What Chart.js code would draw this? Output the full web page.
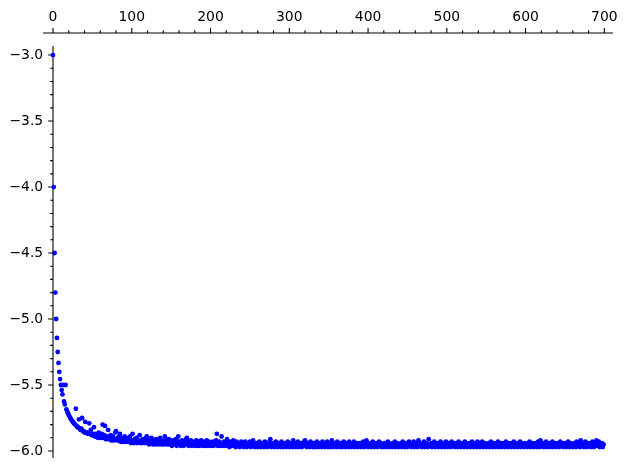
<!DOCTYPE html>
<html>
<head>
<meta charset="utf-8">
<script src="https://cdn.jsdelivr.net/npm/chart.js@4.4.1/dist/chart.umd.min.js"></script>
<style>
  html, body { margin: 0; padding: 0; background: #ffffff; }
  #wrap { width: 627px; height: 469px; }
</style>
</head>
<body>
<div id="wrap"><canvas id="plot" width="627" height="469"></canvas></div>
<script>
// tick labels
var xTicks = [0, 100, 200, 300, 400, 500, 600, 700];
var yTicks = [-3.0, -3.5, -4.0, -4.5, -5.0, -5.5, -6.0];
var xMinorStep = 20;
var yMinorStep = 0.1;

// values, one per x = 0, 1, 2, ...
var yValues = [
  -3.000, -4.000, -4.500, -4.800, -5.000, -5.143, -5.250, -5.333, -5.400, -5.455,
  -5.500, -5.538, -5.571, -5.500, -5.625, -5.647, -5.500, -5.684, -5.700, -5.714,
  -5.727, -5.739, -5.750, -5.760, -5.769, -5.778, -5.786, -5.793, -5.800, -5.680,
  -5.81, -5.82, -5.82, -5.76, -5.83, -5.84, -5.83, -5.75, -5.85, -5.85,
  -5.86, -5.78, -5.86, -5.86, -5.87, -5.86, -5.79, -5.87, -5.84, -5.88,
  -5.88, -5.87, -5.82, -5.89, -5.87, -5.89, -5.88, -5.90, -5.86, -5.90,
  -5.89, -5.90, -5.87, -5.80, -5.90, -5.88, -5.81, -5.91, -5.89, -5.91,
  -5.84, -5.90, -5.91, -5.88, -5.92, -5.90, -5.89, -5.92, -5.91, -5.86,
  -5.85, -5.92, -5.90, -5.92, -5.89, -5.87, -5.93, -5.91, -5.90, -5.93,
  -5.92, -5.89, -5.93, -5.91, -5.93, -5.90, -5.92, -5.93, -5.89, -5.94,
  -5.92, -5.87, -5.93, -5.94, -5.91, -5.93, -5.90, -5.94, -5.92, -5.93,
  -5.88, -5.94, -5.92, -5.94, -5.91, -5.93, -5.94, -5.92, -5.90, -5.89,
  -5.94, -5.92, -5.95, -5.93, -5.91, -5.90, -5.94, -5.95, -5.92, -5.93,
  -5.95, -5.91, -5.94, -5.92, -5.95, -5.93, -5.90, -5.94, -5.95, -5.92,
  -5.93, -5.95, -5.89, -5.94, -5.92, -5.95, -5.94, -5.91, -5.95, -5.93,
  -5.94, -5.96, -5.92, -5.95, -5.93, -5.94, -5.91, -5.96, -5.93, -5.89,
  -5.95, -5.93, -5.96, -5.94, -5.92, -5.95, -5.96, -5.93, -5.94, -5.91,
  -5.90, -5.95, -5.96, -5.93, -5.95, -5.92, -5.96, -5.94, -5.95, -5.93,
  -5.96, -5.94, -5.92, -5.96, -5.95, -5.93, -5.96, -5.94, -5.92, -5.95,
  -5.96, -5.93, -5.95, -5.96, -5.94, -5.92, -5.96, -5.95, -5.93, -5.96,
  -5.94, -5.96, -5.95, -5.93, -5.96, -5.94, -5.95, -5.92, -5.87, -5.96,
  -5.95, -5.93, -5.96, -5.94, -5.89, -5.96, -5.95, -5.93, -5.96, -5.94,
  -5.95, -5.91, -5.96, -5.94, -5.97, -5.93, -5.95, -5.96, -5.94, -5.92,
  -5.96, -5.95, -5.97, -5.93, -5.95, -5.96, -5.94, -5.97, -5.95, -5.93,
  -5.96, -5.94, -5.97, -5.95, -5.93, -5.96, -5.97, -5.94, -5.95, -5.96,
  -5.93, -5.97, -5.95, -5.96, -5.92, -5.94, -5.97, -5.95, -5.96, -5.94,
  -5.97, -5.95, -5.93, -5.96, -5.97, -5.94, -5.96, -5.95, -5.97, -5.93,
  -5.96, -5.94, -5.97, -5.95, -5.96, -5.93, -5.91, -5.97, -5.95, -5.96,
  -5.94, -5.97, -5.95, -5.93, -5.96, -5.97, -5.94, -5.96, -5.95, -5.97,
  -5.93, -5.96, -5.97, -5.95, -5.94, -5.96, -5.97, -5.95, -5.93, -5.96,
  -5.97, -5.94, -5.96, -5.95, -5.97, -5.92, -5.96, -5.94, -5.97, -5.95,
  -5.96, -5.93, -5.97, -5.95, -5.96, -5.94, -5.97, -5.96, -5.95, -5.93,
  -5.92, -5.96, -5.97, -5.94, -5.96, -5.95, -5.97, -5.93, -5.96, -5.95,
  -5.97, -5.94, -5.96, -5.97, -5.95, -5.93, -5.96, -5.97, -5.94, -5.96,
  -5.95, -5.97, -5.93, -5.96, -5.94, -5.97, -5.96, -5.95, -5.93, -5.97,
  -5.96, -5.94, -5.97, -5.95, -5.92, -5.96, -5.97, -5.94, -5.96, -5.95,
  -5.97, -5.93, -5.96, -5.95, -5.97, -5.94, -5.96, -5.97, -5.95, -5.93,
  -5.96, -5.97, -5.94, -5.96, -5.95, -5.97, -5.93, -5.96, -5.94, -5.97,
  -5.95, -5.96, -5.93, -5.97, -5.95, -5.96, -5.94, -5.97, -5.95, -5.96,
  -5.94, -5.97, -5.95, -5.96, -5.93, -5.97, -5.95, -5.96, -5.92, -5.94,
  -5.97, -5.95, -5.96, -5.94, -5.97, -5.95, -5.93, -5.96, -5.97, -5.95,
  -5.94, -5.96, -5.97, -5.95, -5.93, -5.96, -5.94, -5.97, -5.95, -5.96,
  -5.97, -5.94, -5.96, -5.95, -5.97, -5.93, -5.96, -5.94, -5.97, -5.95,
  -5.96, -5.97, -5.94, -5.95, -5.93, -5.97, -5.96, -5.94, -5.95, -5.97,
  -5.95, -5.96, -5.94, -5.97, -5.93, -5.96, -5.95, -5.97, -5.94, -5.96,
  -5.97, -5.95, -5.93, -5.96, -5.94, -5.97, -5.95, -5.96, -5.93, -5.97,
  -5.95, -5.96, -5.94, -5.97, -5.92, -5.95, -5.96, -5.94, -5.97, -5.95,
  -5.96, -5.93, -5.97, -5.95, -5.94, -5.96, -5.97, -5.91, -5.95, -5.96,
  -5.94, -5.97, -5.95, -5.96, -5.93, -5.97, -5.95, -5.96, -5.94, -5.97,
  -5.95, -5.96, -5.93, -5.97, -5.95, -5.94, -5.96, -5.97, -5.95, -5.93,
  -5.96, -5.97, -5.94, -5.95, -5.96, -5.97, -5.93, -5.95, -5.96, -5.94,
  -5.97, -5.95, -5.96, -5.94, -5.97, -5.93, -5.96, -5.95, -5.97, -5.94,
  -5.96, -5.95, -5.97, -5.93, -5.96, -5.94, -5.97, -5.95, -5.96, -5.94,
  -5.97, -5.95, -5.93, -5.96, -5.97, -5.94, -5.96, -5.95, -5.97, -5.93,
  -5.96, -5.94, -5.97, -5.95, -5.96, -5.93, -5.97, -5.95, -5.94, -5.96,
  -5.97, -5.95, -5.96, -5.94, -5.97, -5.95, -5.93, -5.96, -5.97, -5.94,
  -5.95, -5.96, -5.97, -5.94, -5.96, -5.93, -5.97, -5.95, -5.96, -5.94,
  -5.97, -5.95, -5.96, -5.94, -5.97, -5.93, -5.95, -5.96, -5.97, -5.94,
  -5.96, -5.95, -5.97, -5.94, -5.96, -5.93, -5.97, -5.95, -5.96, -5.94,
  -5.97, -5.95, -5.96, -5.93, -5.97, -5.94, -5.96, -5.95, -5.97, -5.94,
  -5.96, -5.95, -5.97, -5.94, -5.96, -5.93, -5.97, -5.95, -5.96, -5.94,
  -5.97, -5.95, -5.96, -5.94, -5.97, -5.95, -5.93, -5.96, -5.97, -5.92,
  -5.95, -5.96, -5.94, -5.97, -5.95, -5.96, -5.93, -5.97, -5.95, -5.96,
  -5.94, -5.97, -5.95, -5.96, -5.93, -5.97, -5.95, -5.94, -5.96, -5.97,
  -5.95, -5.94, -5.96, -5.97, -5.93, -5.95, -5.96, -5.94, -5.97, -5.95,
  -5.96, -5.94, -5.97, -5.95, -5.93, -5.96, -5.97, -5.94, -5.95, -5.96,
  -5.97, -5.95, -5.94, -5.96, -5.97, -5.93, -5.95, -5.96, -5.94, -5.97,
  -5.92, -5.95, -5.96, -5.94, -5.97, -5.95, -5.93, -5.96, -5.97, -5.94,
  -5.95, -5.96, -5.94, -5.97, -5.95, -5.93, -5.96, -5.97, -5.95, -5.94,
  -5.92, -5.96, -5.95, -5.93, -5.97, -5.95, -5.96, -5.94, -5.97, -5.95
];

var FONT = '13.9px "DejaVu Sans"';
var MINUS = '\u2212';

function fmtX(v) {
    return v < 0 ? MINUS + Math.abs(v) : String(v);
}
function fmtY(v) {
    var s = Math.abs(v).toFixed(1);
    return v < 0 ? MINUS + s : s;
}

// sage style axes: x axis along the top, y axis at x = 0
var sageAxes = {
    id: 'sageAxes',
    beforeDatasetsDraw: function (chart) {
        var ctx = chart.ctx;
        var xs = chart.scales.x;
        var ys = chart.scales.y;
        var area = chart.chartArea;
        var x0 = xs.getPixelForValue(0);
        var yTop = ys.getPixelForValue(-2.932);
        var axisY = area.top;
        var majorLen = 4.9, minorLen = 2.8;
        var i, v, p;

        ctx.save();
        ctx.strokeStyle = '#000000';
        ctx.lineWidth = 1.1;
        ctx.lineCap = 'butt';

        // x spine
        ctx.beginPath();
        ctx.moveTo(area.left, axisY);
        ctx.lineTo(area.right, axisY);
        ctx.stroke();
        // y spine
        ctx.beginPath();
        ctx.moveTo(x0, yTop);
        ctx.lineTo(x0, area.bottom);
        ctx.stroke();

        // x ticks
        ctx.beginPath();
        for (v = 0; v <= 700 + 0.001; v += xMinorStep) {
            p = xs.getPixelForValue(v);
            var isMajor = xTicks.indexOf(v) >= 0;
            ctx.moveTo(p, axisY);
            ctx.lineTo(p, axisY - (isMajor ? majorLen : minorLen));
        }
        ctx.stroke();

        // y ticks
        ctx.beginPath();
        for (i = 0; i <= 30; i++) {
            v = -6.0 + i * yMinorStep;
            p = ys.getPixelForValue(v);
            var major = i % 5 === 0;
            ctx.moveTo(x0, p);
            ctx.lineTo(x0 - (major ? majorLen : minorLen), p);
        }
        ctx.stroke();

        // labels
        ctx.fillStyle = '#000000';
        ctx.font = FONT;
        ctx.textAlign = 'center';
        ctx.textBaseline = 'alphabetic';
        xTicks.forEach(function (t) {
            ctx.fillText(fmtX(t), xs.getPixelForValue(t), axisY - majorLen - 7.3);
        });
        ctx.textAlign = 'right';
        ctx.textBaseline = 'middle';
        yTicks.forEach(function (t) {
            ctx.fillText(fmtY(t), x0 - majorLen - 4.9, ys.getPixelForValue(t) + 0.5);
        });
        ctx.restore();
    }
};

var points = yValues.map(function (y, i) {
    return { x: i, y: y };
});

var chart = new Chart(document.getElementById('plot').getContext('2d'), {
    type: 'scatter',
    data: {
        datasets: [{
            data: points,
            backgroundColor: '#0000ff',
            borderColor: '#0000ff',
            borderWidth: 0,
            pointRadius: 2.4,
            pointHoverRadius: 2.4
        }]
    },
    options: {
        responsive: false,
        animation: false,
        devicePixelRatio: 1,
        events: [],
        layout: { padding: { left: 43, right: 14, top: 33, bottom: 11 } },
        plugins: {
            legend: { display: false },
            tooltip: { enabled: false }
        },
        scales: {
            x: { type: 'linear', display: false, min: -12.7, max: 711 },
            y: { type: 'linear', display: false, min: -6.053, max: -2.833 }
        }
    },
    plugins: [sageAxes]
});
</script>
</body>
</html>
